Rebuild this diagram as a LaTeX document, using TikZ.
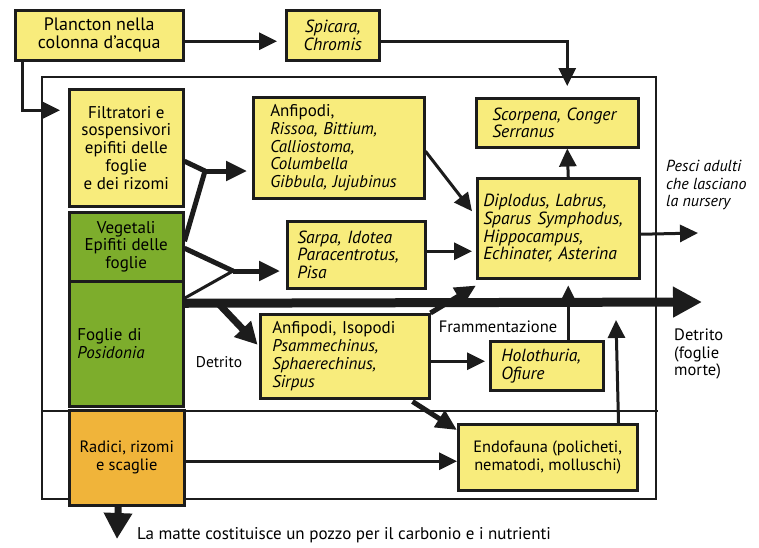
\documentclass[tikz,border=0pt]{standalone}
\usepackage{fontspec}
\setmainfont{PT Sans}
\usetikzlibrary{arrows.meta,calc}
\definecolor{byel}{HTML}{F8EC7C}
\definecolor{bgreen}{HTML}{7DAD2C}
\definecolor{borange}{HTML}{F0B43A}
\definecolor{ink}{HTML}{1C1C1C}
\newcommand\fs{\fontsize{17}{17.8}\selectfont}
\newcommand\fsi{\fontsize{17.6}{17.8}\selectfont\itshape}
\newcommand\fss{\fontsize{16.4}{17.8}\selectfont}
\newcommand\fsl{\fontsize{15.5}{17.5}\selectfont}
\begin{document}
\begin{tikzpicture}[x=1pt,y=-1pt,
  box/.style={draw=ink, line width=2.5pt, anchor=north west, inner ysep=0pt, font=\fs},
  ibox/.style={box, font=\fsi},
  frameline/.style={draw=ink, line width=2.2pt},
  ar/.style={draw=ink, line width=3pt, -{Triangle[length=18pt,width=17pt]}},
  arthick/.style={draw=ink, line width=5pt, -{Triangle[length=21pt,width=19pt]}},
  lbl/.style={font=\fsl, inner sep=0pt}]
\useasboundingbox (0,0) rectangle (759,547);
\fill[white] (0,0) rectangle (759,547);

% frame and separator
\draw[frameline] (42,77) rectangle (656,499);
\draw[draw=ink, line width=1.6pt] (42,411) -- (658,411);

% boxes
\node[box, fill=byel, minimum width=168pt, minimum height=50pt, align=center, font=\fontsize{18}{17.8}\selectfont] (plancton) at (14,9) {Plancton nella\\colonna d’acqua};
\node[ibox, fill=byel, minimum width=93pt, minimum height=50pt, align=center] (spicara) at (285,9) {Spicara,\\Chromis};
\node[box, fill=byel, minimum width=114pt, minimum height=117pt, align=center, inner xsep=2pt] (filt) at (68,88) {Filtratori e\\sospensivori\\epifiti delle\\foglie\\e dei rizomi};
\node[box, fill=bgreen, minimum width=114pt, minimum height=69pt, align=center, inner xsep=2pt] (veg) at (68,211) {Vegetali\\Epifiti delle\\foglie};
\node[box, fill=bgreen, minimum width=114pt, minimum height=125pt, align=left, inner xsep=8pt, text width=98pt] (fog) at (68,280) {Foglie di\\\textit{Posidonia}};
\node[box, fill=borange, minimum width=115pt, minimum height=95pt, align=center, inner xsep=2pt, font=\fss] (rad) at (68,409) {Radici, rizomi\\e scaglie};
\node[box, fill=byel, minimum width=171pt, minimum height=101pt, align=left, inner xsep=17pt, text width=137pt] (anf) at (252,96) {Anfipodi,\\\textit{Rissoa,~Bittium,}\\\textit{Calliostoma,}\\\textit{Columbella}\\\textit{Gibbula,~Jujubinus}};
\node[ibox, fill=byel, minimum width=138pt, minimum height=67pt, align=left, inner xsep=10pt, text width=118pt] (sarpa) at (286,220) {Sarpa,~Idotea\\Paracentrotus,\\Pisa};
\node[box, fill=byel, minimum width=169pt, minimum height=84pt, align=left, inner xsep=12pt, text width=145pt] (anfiso) at (259,313) {Anfipodi,~Isopodi\\\textit{Psammechinus,}\\\textit{Sphaerechinus,}\\\textit{Sirpus}};
\node[ibox, fill=byel, minimum width=113pt, minimum height=49pt, align=left, inner xsep=11pt, text width=91pt] (holo) at (489,340) {Holothuria,\\Ofiure};
\node[box, fill=byel, minimum width=179pt, minimum height=66pt, align=center, inner xsep=2pt, font=\fss] (endo) at (457,423) {Endofauna (policheti,\\nematodi, molluschi)};
\node[ibox, fill=byel, minimum width=162pt, minimum height=49pt, align=left, inner xsep=16pt, text width=130pt] (scorp) at (475,97) {Scorpena,~Conger\\Serranus};
\node[ibox, fill=byel, minimum width=162pt, minimum height=100pt, align=left, inner xsep=6pt, text width=150pt] (dipl) at (476,177) {Diplodus,~Labrus,\\Sparus~Symphodus,\\Hippocampus,\\Echinater,~Asterina};

% free ends, junctions and connector start points
\coordinate (j1) at (205,171);
\coordinate (j2) at (233,271);
\coordinate (d0) at (217,302);
\coordinate (bigend) at (702,302);
\coordinate (pesciend) at (698,233);
\coordinate (endoup) at (616,320);
\coordinate (matte) at (117,539);
\coordinate (sarpaout) at ([yshift=3.5pt]sarpa.east);
\coordinate (anfisoout) at ([yshift=-5pt]anfiso.east);
\coordinate (radout) at ([yshift=-3.5pt]rad.east);
\coordinate (holoout) at ([xshift=21.5pt]holo.north);
\coordinate (filtin) at ([yshift=37.5pt]filt.west);

% connectors
\draw[ar, shorten >=8pt] ([yshift=-6pt]plancton.east) -- ([yshift=-6pt]spicara.west);
\draw[ar, shorten >=11pt] ([yshift=-6pt]spicara.east) -| ([xshift=10pt]scorp.north);
\draw[ar, shorten >=8pt] ([xshift=8pt]plancton.south west) |- (filtin);

\draw[draw=ink, line width=5pt] ([yshift=-13.5pt]filt.east) -- (j1);
\draw[draw=ink, line width=5pt] ([yshift=5.5pt]veg.east) -- (j1);
\draw[arthick, shorten >=5pt] (j1) -- (anf.west |- j1);

\draw[draw=ink, line width=5pt] ([yshift=-1.5pt]veg.east) -- (j2);
\draw[draw=ink, line width=3pt] ([yshift=45.5pt]fog.east) -- (j2);
\draw[arthick, shorten >=6pt] (j2) -- (sarpa.west |- j2);

\draw[draw=ink, line width=9pt, -{Triangle[length=29pt,width=29pt]}] ([yshift=40.5pt]fog.east) -- (bigend);
\draw[draw=ink, line width=7pt, -{Triangle[length=22pt,width=22pt]}, shorten >=2pt] (d0) -- ([yshift=10pt]anfiso.west);

\draw[ar] ([yshift=-3.5pt]anf.east) -- ([xshift=-4pt,yshift=17pt]dipl.west);
\draw[ar, shorten >=4pt] (sarpaout) -- (dipl.west |- sarpaout);
\draw[ar] ([xshift=10pt]dipl.north) -- ([xshift=10pt]scorp.south);
\draw[ar] ([yshift=-6pt]dipl.east) -- (pesciend);
\draw[arthick] (anfiso.north east) -- ([yshift=-6pt]dipl.south west);
\draw[ar, shorten >=6pt] (holoout) -- (holoout |- dipl.south);
\draw[ar, shorten >=4pt] (anfisoout) -- (holo.west |- anfisoout);
\draw[arthick] ([xshift=-18pt,yshift=-2pt]anfiso.south east) -- ([yshift=-7pt]endo.north west);
\draw[ar] ([xshift=-20pt]endo.north east) -- (endoup);
\draw[ar] (radout) -- (endo.west |- radout);
\draw[draw=ink, line width=7pt, -{Triangle[length=26pt,width=27pt]}] ([xshift=-8.5pt]rad.south) -- (matte);

% labels
\node[lbl, font=\fontsize{16.5}{17.5}\selectfont] (lfram) at (498,327) {Frammentazione};
\node[lbl] (ldet) at (219,362) {Detrito};
\node[lbl, anchor=west, align=left, font=\fontsize{16.5}{17.5}\selectfont] (ldetm) at (674,354) {Detrito\\(foglie\\morte)};
\node[lbl, anchor=west, align=left, font=\fontsize{16}{17.5}\selectfont\itshape] (lpesci) at (666,185) {Pesci adulti\\che lasciano\\la nursery};
\node[lbl, anchor=west, font=\fontsize{17}{17.5}\selectfont] (lmatte) at (137,535) {La matte costituisce un pozzo per il carbonio e i nutrienti};
\end{tikzpicture}
\end{document}
